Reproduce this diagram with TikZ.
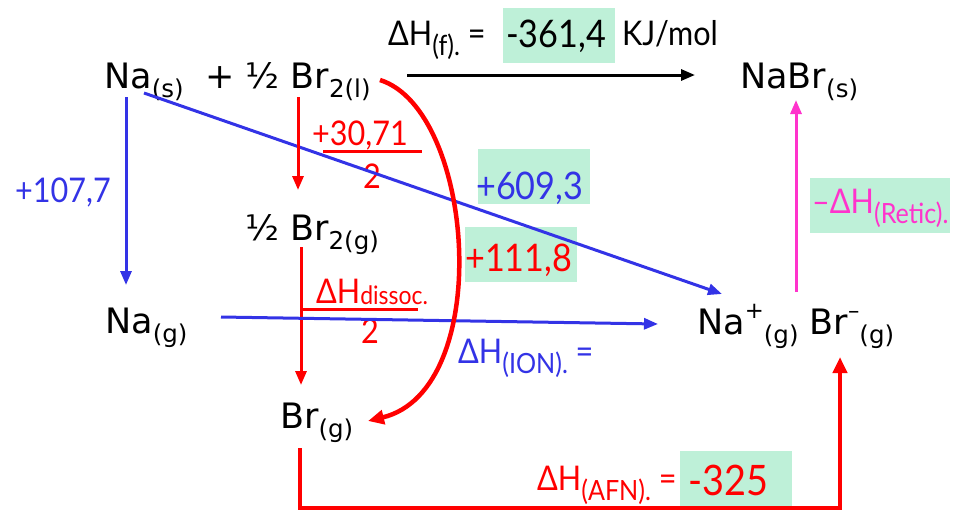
\documentclass[tikz,border=0pt]{standalone}
\usepackage{fontspec}
\setmainfont{Lato}[FakeStretch=0.9]
\newfontfamily\spfont{DejaVu Sans}
\usetikzlibrary{arrows.meta,calc}
\definecolor{myblue}{RGB}{51,51,230}
\definecolor{myred}{RGB}{255,0,0}
\definecolor{mypink}{RGB}{255,51,204}
\definecolor{mygreen}{RGB}{190,240,216}
\newcommand{\subx}[1]{\raisebox{-0.28em}{\scalebox{0.7}{#1}}}
\newcommand{\subl}[1]{\raisebox{-0.3em}{\scalebox{0.82}{#1}}}
\newcommand{\subh}[1]{\raisebox{-0.05em}{\scalebox{0.75}{#1}}}
\newcommand{\supx}[1]{\raisebox{0.45em}{\scalebox{0.65}{#1}}}
\tikzset{
  txt/.style={inner sep=0pt, anchor=base west, font=\spfont\fontsize{35}{40}\selectfont},
  lbl/.style={inner sep=0pt, anchor=base west, font=\fontsize{34}{40}\selectfont},
  val/.style={inner sep=0pt, anchor=base west, font=\fontsize{38}{44}\selectfont},
  gbox/.style={fill=mygreen, inner sep=0pt, minimum width=112pt, minimum height=55pt},
  ar/.style={-{Triangle[length=14pt,width=11pt]}, line width=3pt},
  arthick/.style={-{Triangle[length=16pt,width=14pt]}, line width=4.5pt},
}
\begin{document}
\begin{tikzpicture}[x=1pt,y=-1pt]
\useasboundingbox (0,0) rectangle (953,512);
% green boxes
\node[gbox] (b361) at (559,35.5) {};
\node[gbox] (b609) at (534,176) {};
\node[gbox] (b111) at (521,254.5) {};
\node[gbox, minimum width=140pt] (bret) at (880,205.5) {};
\node[gbox] (b325) at (736,478.5) {};
% species
\node[txt] (naS) at (104,88) {Na\subx{(s)}};
\node[txt] (brL) at (205,88) {+ ½ Br\subx{2(l)}};
\node[txt] (nabr) at (740,88) {NaBr\subx{(s)}};
\node[txt] (halfBrG) at (245,240) {½ Br\subx{2(g)}};
\node[txt] (naG) at (105,333) {Na\subx{(g)}};
\node[txt] (ions) at (697,334) {Na\supx{+}\subx{(g)} Br\supx{\textendash}\subx{(g)}};
\node[txt] (brG) at (280,428) {Br\subx{(g)}};
% labels
\node[lbl] (dhf) at (388,45) {ΔH\subl{(f).} =};
\node[val] (v361) at (506,47) {-361,4};
\node[lbl] (kj) at (622,45) {KJ/mol};
\node[lbl, text=myblue] (v107) at (15,202) {+107,7};
\node[lbl, text=myred] (v3071) at (312,145) {+30,71};
\node[lbl, text=myred, anchor=base] (two1) at (372,188) {2};
\node[val, text=myblue] (v609) at (476,199) {+609,3};
\node[val, text=myred] (v111) at (465,271) {+111,8};
\node[lbl, text=myred] (dhdis) at (316,303) {ΔH\subh{dissoc.}};
\node[lbl, text=myred, anchor=base] (two2) at (370,343) {2};
\node[lbl, text=myblue] (dhion) at (458,363) {ΔH\subl{(ION).} =};
\node[lbl, text=mypink] (dhret) at (812,213) {\textendash ΔH\subl{(Retic).}};
\node[lbl, text=myred] (dhafn) at (537,490) {ΔH\subl{(AFN).} =};
\node[val, text=myred, font=\fontsize{42}{48}\selectfont] (v325) at (688,495) {-325};
% fraction bars
\draw[myred, line width=3pt] ([shift={(11,6)}]v3071.base west) -- ([shift={(110,6)}]v3071.base west);
\draw[myred, line width=3pt] ([shift={(-15,6)}]dhdis.base west) -- ([shift={(102,6)}]dhdis.base west);
% arrows
\draw[ar, black] ([shift={(202,-13)}]brL.base west) -- ([shift={(-45,-13)}]nabr.base west);
\draw[ar, myblue] ([shift={(22,9)}]naS.base west) -- ([shift={(21,-48)}]naG.base west);
\draw[ar, myblue] ([shift={(40,5)}]naS.base west) -- ([shift={(25,-40)}]ions.base west);
\draw[ar, myred] ([shift={(93,9)}]brL.base west) -- ([shift={(53,-50)}]halfBrG.base west);
\draw[ar, myred] ([shift={(56,7)}]halfBrG.base west) -- ([shift={(21,-43)}]brG.base west);
\draw[ar, myblue] ([shift={(116,-16)}]naG.base west) -- ([shift={(-39,-10)}]ions.base west);
\draw[ar, mypink] ([shift={(99,-42)}]ions.base west) -- ([shift={(56,12)}]nabr.base west);
\draw[arthick, myred] ([shift={(175,-8)}]brL.base west) .. controls (475,110) and (495,390) .. ([shift={(88,-7)}]brG.base west);
\draw[arthick, myred] ([shift={(20,20)}]brG.base west) -- ++(0,60) -| ([shift={(143,23)}]ions.base west);
\end{tikzpicture}
\end{document}
